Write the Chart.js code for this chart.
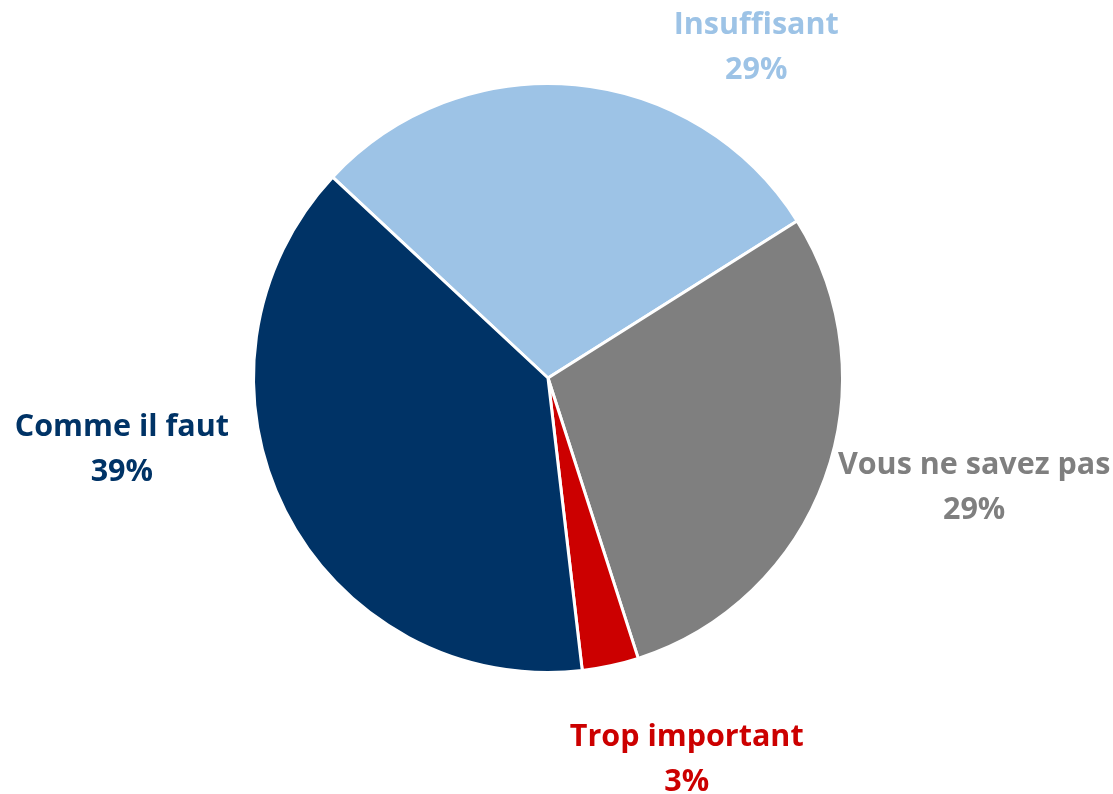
<!DOCTYPE html>
<html>
<head>
<meta charset="utf-8">
<script src="https://cdn.jsdelivr.net/npm/chart.js@4"></script>
<style>
  html, body { margin: 0; padding: 0; background: #fff; }
  #wrap { width: 1113px; height: 794px; }
</style>
</head>
<body>
<div id="wrap"><canvas id="chart" width="1113" height="794"></canvas></div>
<script>
var categories = ["Insuffisant", "Vous ne savez pas", "Trop important", "Comme il faut"];
var values = [29.1, 29.0, 3.1, 38.8];
var percentLabels = ["29%", "29%", "3%", "39%"];
var colors = ["#9DC3E6", "#7F7F7F", "#CC0000", "#003366"];

// label placement relative to the pie: x, y offsets in radius units from its centre
var labelSpots = [[0.707, -1.13], [1.447, 0.365], [0.471, 1.287], [-1.447, 0.235]];

var outsideLabels = {
  id: "outsideLabels",
  afterDatasetsDraw: function(chart) {
    var ctx = chart.ctx;
    var arcs = chart.getDatasetMeta(0).data;
    ctx.save();
    ctx.font = "bold 30.5px 'Open Sans'";
    ctx.textAlign = "center";
    ctx.textBaseline = "middle";
    arcs.forEach(function(arc, i) {
      var r = arc.outerRadius;
      var cx = arc.x + labelSpots[i][0] * r;
      var cy = arc.y + labelSpots[i][1] * r;
      ctx.fillStyle = colors[i];
      ctx.fillText(categories[i], cx, cy - 20);
      ctx.fillText(percentLabels[i], cx, cy + 25);
    });
    ctx.restore();
  }
};

window.addEventListener("load", function() {
  window.chart = new Chart(document.getElementById("chart").getContext("2d"), {
    type: "pie",
    data: {
      labels: categories,
      datasets: [{
        data: values,
        backgroundColor: colors,
        borderColor: "#fff",
        borderWidth: 3
      }]
    },
    options: {
      responsive: false,
      animation: false,
      rotation: -47,
      layout: { padding: { top: 82, bottom: 120, left: 0, right: 17 } },
      plugins: {
        legend: { display: false },
        tooltip: { enabled: false }
      }
    },
    plugins: [outsideLabels]
  });
});
</script>
</body>
</html>
